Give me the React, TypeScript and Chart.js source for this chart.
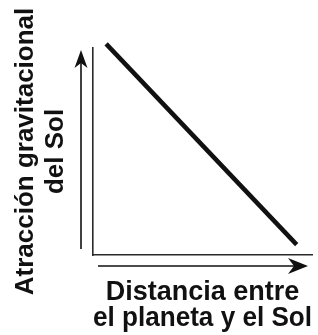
import React, { useEffect, useRef } from "react";
import { Chart, registerables } from "chart.js";

Chart.register(...registerables);

// Data (conceptual: attraction decreases as distance increases)
const distance: number[] = [6, 93];
const attraction: number[] = [102, 5];
const yTitleLines: string[] = ["Atracción gravitacional", "del Sol"];
const xTitleLines: string[] = ["Distancia entre", "el planeta y el Sol"];

const FONT = "'Liberation Sans', Arial, Helvetica, sans-serif";

const arrowPlugin = {
  id: "axisArrows",
  afterDraw(chart: any) {
    const { ctx, chartArea } = chart;
    const { left, right, top, bottom } = chartArea;
    ctx.save();
    ctx.strokeStyle = "#111111";
    ctx.fillStyle = "#111111";
    ctx.lineWidth = 1.6;
    // vertical arrow
    const vx = left - 12;
    const vy0 = bottom - 6;
    const vy1 = top + 2;
    ctx.beginPath();
    ctx.moveTo(vx, vy0);
    ctx.lineTo(vx, vy1 + 10);
    ctx.stroke();
    ctx.beginPath();
    ctx.moveTo(vx, vy1);
    ctx.lineTo(vx - 6.5, vy1 + 18);
    ctx.lineTo(vx, vy1 + 13);
    ctx.lineTo(vx + 6.5, vy1 + 18);
    ctx.closePath();
    ctx.fill();
    // horizontal arrow
    const hy = bottom + 11;
    const hx0 = left + 5;
    const hx1 = right - 4;
    ctx.beginPath();
    ctx.moveTo(hx0, hy);
    ctx.lineTo(hx1 - 10, hy);
    ctx.stroke();
    ctx.beginPath();
    ctx.moveTo(hx1, hy);
    ctx.lineTo(hx1 - 20, hy - 8);
    ctx.lineTo(hx1 - 14, hy);
    ctx.lineTo(hx1 - 20, hy + 8);
    ctx.closePath();
    ctx.fill();
    ctx.restore();
  },
};

export default function App() {
  const ref = useRef<HTMLCanvasElement | null>(null);

  useEffect(() => {
    document.body.style.margin = "0";
    const canvas = ref.current;
    if (!canvas) return;
    const chart = new Chart(canvas, {
      type: "line",
      data: {
        datasets: [
          {
            data: distance.map((d, i) => ({ x: d, y: attraction[i] })),
            borderColor: "#111111",
            borderWidth: 4.5,
            borderCapStyle: "butt",
            pointRadius: 0,
            fill: false,
            tension: 0,
            clip: false as any,
          },
        ],
      },
      options: {
        animation: false,
        responsive: false,
        devicePixelRatio: 1,
        layout: { padding: { top: 48, right: 6, left: 0, bottom: 0 } },
        plugins: {
          legend: { display: false },
          tooltip: { enabled: false },
          title: { display: false },
        },
        scales: {
          x: {
            type: "linear",
            min: 0,
            max: 100,
            grid: { display: false, drawTicks: false },
            border: { display: true, color: "#2a2a2a", width: 1.6 },
            ticks: { display: false },
            title: {
              display: true,
              text: xTitleLines,
              color: "#111111",
              font: { family: FONT, size: 27, weight: "bold", lineHeight: 26 / 27 },
              padding: { top: 25, bottom: 3 },
            },
          },
          y: {
            type: "linear",
            min: 0,
            max: 100,
            grid: { display: false, drawTicks: false },
            border: { display: true, color: "#2a2a2a", width: 1.6 },
            ticks: { display: false },
            title: {
              display: true,
              text: yTitleLines,
              color: "#111111",
              font: { family: FONT, size: 26, weight: "bold", lineHeight: 30 / 26 },
              padding: { top: 11, bottom: 22 },
            },
          },
        },
      },
      plugins: [arrowPlugin],
    });
    return () => chart.destroy();
  }, []);

  return (
    <div style={{ width: 318, height: 335 }}>
      <canvas ref={ref} width={318} height={335} style={{ display: "block" }} />
    </div>
  );
}
